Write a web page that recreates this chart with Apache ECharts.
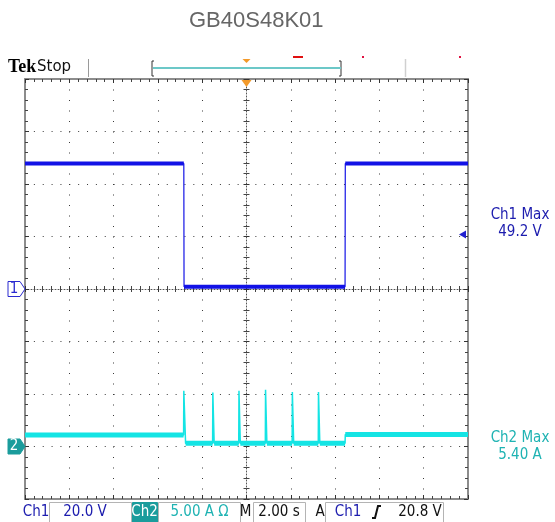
<!DOCTYPE html>
<html>
<head>
<meta charset="utf-8">
<script src="https://cdn.jsdelivr.net/npm/echarts@6/dist/echarts.min.js"></script>
<style>
  html, body { margin: 0; padding: 0; background: #ffffff; }
  #scope { width: 555px; height: 522px; }
</style>
</head>
<body>
<div id="scope"></div>
<script>
// Time axis: seconds relative to the trigger point, 2.00 s/div
const timeTicks = [-10, -8, -6, -4, -2, 0, 2, 4, 6, 8, 10];

// Ch1: supply voltage (V), 20.0 V/div
const ch1Time  = [-10, -2.83, -2.82, 4.45, 4.46, 10];
const ch1Volts = [47.8, 47.8, 0.9, 0.9, 47.8, 47.8];

// Ch2: current (A), 5.00 A/div, short pulses while the supply is low
const ch2Time = [-10, -2.84, -2.83, -2.76, -2.75, -1.53, -1.52, -1.47, -1.46,
                 -0.35, -0.34, -0.29, -0.28, 0.85, 0.86, 0.91, 0.92,
                 2.06, 2.07, 2.12, 2.13, 3.24, 3.25, 3.30, 3.31, 4.45, 4.46, 10];
const ch2Amps = [1.1, 1.1, 5.3, 5.3, 0.3, 0.3, 5.15, 5.15, 0.3,
                 0.3, 5.3, 5.3, 0.3, 0.3, 5.4, 5.4, 0.3,
                 0.3, 5.2, 5.2, 0.3, 0.3, 5.2, 5.2, 0.3, 0.3, 1.15, 1.15];

// Readouts
const titleText   = 'GB40S48K01';
const ch1Readout  = ['Ch1 Max', '49.2 V'];
const ch2Readout  = ['Ch2 Max', '5.40 A'];
const ch1Scale    = '20.0 V';
const ch2Scale    = '5.00 A \u03A9';
const timeScale   = '2.00 s';
const trigLevel   = 20.8;
const trigText    = '20.8 V';

const BLUE = '#1212e6';
const CYAN = '#14e4e4';
const BLUE_TXT = '#1c1cae';
const TEAL_TXT = '#1fb3b3';
const TEAL_BOX = '#1a9c9c';
const FONT = '"DejaVu Sans Condensed", "DejaVu Sans", sans-serif';

function pairs(t, v) { return t.map((x, i) => [x, v[i]]); }

// Flat stretches of a trace, drawn thicker to show the noise band
function levelRuns(t, v, minLen) {
  const out = [];
  for (let i = 0; i < t.length - 1; i++) {
    if (v[i] === v[i + 1] && t[i + 1] - t[i] > minLen) {
      out.push([t[i], v[i]], [t[i + 1], v[i + 1]], [t[i + 1], '-']);
    }
  }
  return out;
}

const dotted = (gap) => ({ color: '#3a3a3a', width: 1, type: [1, gap] });
const borderLine = { show: true, onZero: false, lineStyle: { color: '#8c8c8c', width: 2 } };
const innerTick = { show: true, inside: true, length: 4, lineStyle: { color: '#333', width: 1 } };
const minor = { show: true, splitNumber: 5, length: 3, lineStyle: { color: '#444', width: 1 } };

function timeAxis(extra) {
  return Object.assign({
    type: 'value', min: -10, max: 10, interval: 2,
    axisLabel: { show: false }, splitLine: { show: false }
  }, extra);
}
function voltAxis(extra) {
  return Object.assign({
    type: 'value', min: -80, max: 80, interval: 20,
    axisLabel: { show: false }, splitLine: { show: false }
  }, extra);
}

const chart = echarts.init(document.getElementById('scope'), null, { renderer: 'canvas' });

chart.setOption({
  animation: false,
  backgroundColor: '#ffffff',
  title: {
    text: titleText, left: 184, top: 5,
    textStyle: { fontFamily: '"Liberation Sans", Arial, sans-serif', fontSize: 22, fontWeight: 'normal', color: '#666666' }
  },
  grid: { left: 25, top: 79, width: 443, height: 420, show: false },
  xAxis: [
    timeAxis({ position: 'bottom', axisLine: borderLine, axisTick: innerTick, minorTick: minor,
               splitLine: { show: true, lineStyle: dotted(9.5) } }),
    timeAxis({ position: 'top', axisLine: borderLine, axisTick: innerTick, minorTick: minor }),
    timeAxis({ position: 'bottom', axisLine: { show: true, onZero: true, onZeroAxisIndex: 0, lineStyle: { color: '#555', width: 1, type: [1, 2] } },
               axisTick: Object.assign({}, innerTick, { length: 3 }), minorTick: minor }),
    timeAxis({ position: 'bottom', axisLine: { show: false, onZero: true, onZeroAxisIndex: 0 },
               axisTick: Object.assign({}, innerTick, { inside: false, length: 3 }), minorTick: minor })
  ],
  yAxis: [
    voltAxis({ position: 'left', axisLine: borderLine, axisTick: innerTick, minorTick: minor,
               splitLine: { show: true, lineStyle: dotted(7.86) } }),
    { type: 'value', min: -5, max: 35, interval: 5, show: false },
    voltAxis({ position: 'right', axisLine: borderLine, axisTick: innerTick, minorTick: minor }),
    voltAxis({ position: 'left', axisLine: { show: true, onZero: true, onZeroAxisIndex: 0, lineStyle: { color: '#555', width: 1, type: [1, 2] } },
               axisTick: Object.assign({}, innerTick, { length: 3 }), minorTick: minor }),
    voltAxis({ position: 'left', axisLine: { show: false, onZero: true, onZeroAxisIndex: 0 },
               axisTick: Object.assign({}, innerTick, { inside: false, length: 3 }), minorTick: minor })
  ],
  series: [
    { name: 'Ch1', type: 'line', xAxisIndex: 0, yAxisIndex: 0, data: pairs(ch1Time, ch1Volts),
      showSymbol: false, symbol: 'none', lineStyle: { color: BLUE, width: 1.2 }, z: 5 },
    { name: 'Ch1 band', type: 'line', xAxisIndex: 0, yAxisIndex: 0, data: levelRuns(ch1Time, ch1Volts, 0.3),
      showSymbol: false, symbol: 'none', connectNulls: false, lineStyle: { color: BLUE, width: 4, cap: 'butt' }, z: 5 },
    { name: 'Ch2', type: 'line', xAxisIndex: 0, yAxisIndex: 1, data: pairs(ch2Time, ch2Amps),
      showSymbol: false, symbol: 'none', lineStyle: { color: CYAN, width: 1.5 }, z: 4 },
    { name: 'Ch2 band', type: 'line', xAxisIndex: 0, yAxisIndex: 1, data: levelRuns(ch2Time, ch2Amps, 0.3),
      showSymbol: false, symbol: 'none', connectNulls: false, lineStyle: { color: CYAN, width: 5, cap: 'butt' }, z: 4 }
  ]
});

// Screen furniture: header, channel markers, readouts
const g1 = chart.convertToPixel({ yAxisIndex: 0 }, 0);
const g2 = chart.convertToPixel({ yAxisIndex: 1 }, 0);
const tY = chart.convertToPixel({ yAxisIndex: 0 }, trigLevel);
const tX = chart.convertToPixel({ xAxisIndex: 0 }, 0);

function marker(y, label, fill, stroke, txt) {
  return [
    { type: 'polygon', shape: { points: [[8, y - 7.5], [20, y - 7.5], [25, y], [20, y + 7.5], [8, y + 7.5]] },
      style: { fill: fill, stroke: stroke, lineWidth: 1 }, z: 10 },
    { type: 'text', x: 14, y: y, style: { text: label, fill: txt, font: '15px ' + FONT, align: 'center', verticalAlign: 'middle' }, z: 11 }
  ];
}
function txt(x, y, s, color, font, align) {
  return { type: 'text', x: x, y: y, style: { text: s, fill: color, font: font || ('15px ' + FONT), align: align || 'center', verticalAlign: 'middle' }, z: 11 };
}
function box(x1, x2, fill) {
  return { type: 'rect', shape: { x: x1 + 0.5, y: 502.5, width: x2 - x1, height: 20 },
           style: { fill: fill || 'none', stroke: fill ? fill : '#b4b4b4', lineWidth: 1 }, z: 10 };
}

const barY = 512;
chart.setOption({
  graphic: [
    // header
    txt(8, 67, 'Tek', '#000', 'bold 18px "Liberation Serif", serif', 'left'),
    txt(37, 67, 'Stop', '#111', '15px "DejaVu Sans", sans-serif', 'left'),
    { type: 'line', shape: { x1: 88.5, y1: 59, x2: 88.5, y2: 77 }, style: { stroke: '#9a9a9a', lineWidth: 1 } },
    { type: 'line', shape: { x1: 405.5, y1: 59, x2: 405.5, y2: 77 }, style: { stroke: '#d0d0d0', lineWidth: 1.5 } },
    { type: 'polyline', shape: { points: [[154, 61], [152, 61], [152, 76], [154, 76]] }, style: { stroke: '#333', lineWidth: 1, fill: 'none' } },
    { type: 'polyline', shape: { points: [[339, 61], [341, 61], [341, 76], [339, 76]] }, style: { stroke: '#333', lineWidth: 1, fill: 'none' } },
    { type: 'line', shape: { x1: 153, y1: 68, x2: 341, y2: 68 }, style: { stroke: '#6cc8c8', lineWidth: 2 } },
    { type: 'polygon', shape: { points: [[tX - 4, 59], [tX + 4, 59], [tX, 63]] }, style: { fill: '#f39a2a' } },
    { type: 'rect', shape: { x: 293, y: 56, width: 10, height: 2 }, style: { fill: '#e01010' } },
    { type: 'rect', shape: { x: 362, y: 56, width: 2, height: 2 }, style: { fill: '#e01040' } },
    { type: 'rect', shape: { x: 459, y: 56, width: 2, height: 2 }, style: { fill: '#e01040' } },
    // trigger position at top of graticule
    { type: 'polygon', shape: { points: [[tX - 5, 80], [tX + 5, 80], [tX, 87]] }, style: { fill: '#f39a2a' }, z: 12 },
    // ground markers
    ...marker(g1, '1', '#ffffff', '#2a2ad0', '#2a2ad0'),
    ...marker(g2, '2', TEAL_BOX, TEAL_BOX, '#ffffff'),
    // trigger level
    { type: 'polygon', shape: { points: [[459, tY], [466, tY - 4], [466, tY + 4]] }, style: { fill: '#2020d0' }, z: 12 },
    // right readouts
    txt(520, 215, ch1Readout[0], BLUE_TXT, '15px ' + FONT),
    txt(520, 232, ch1Readout[1], BLUE_TXT, '15px ' + FONT),
    txt(520, 438, ch2Readout[0], TEAL_TXT, '15px ' + FONT),
    txt(520, 455, ch2Readout[1], TEAL_TXT, '15px ' + FONT),
    // bottom status bar
    txt(36, barY, 'Ch1', BLUE_TXT),
    box(49, 131),
    txt(85, barY, ch1Scale, BLUE_TXT),
    box(132, 157, TEAL_BOX),
    txt(144.5, barY, 'Ch2', '#ffffff'),
    box(158, 240),
    txt(199.5, barY, ch2Scale, TEAL_TXT),
    txt(245.5, barY, 'M', '#111'),
    box(253, 305),
    txt(279, barY, timeScale, '#111'),
    txt(320, barY, 'A', '#111'),
    box(325, 443),
    txt(348, barY, 'Ch1', BLUE_TXT),
    { type: 'polyline', shape: { points: [[372, 518], [375, 518], [378, 506], [381, 506]] }, style: { stroke: '#111', lineWidth: 2, fill: 'none' }, z: 11 },
    txt(420, barY, trigText, '#111')
  ]
});
</script>
</body>
</html>
